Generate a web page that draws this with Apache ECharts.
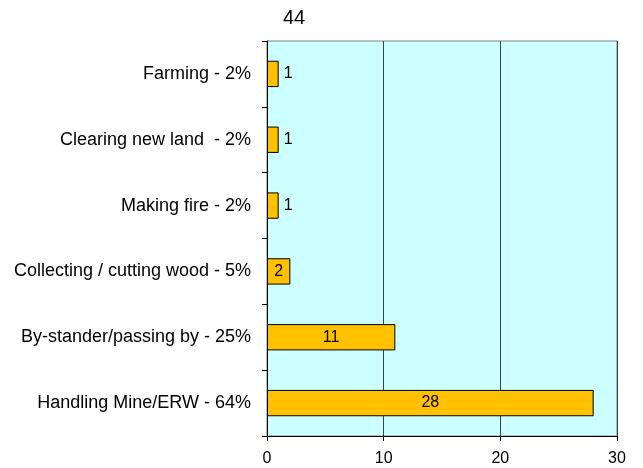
<!DOCTYPE html>
<html><head><meta charset="utf-8">
<script src="https://cdn.jsdelivr.net/npm/echarts@6/dist/echarts.min.js"></script>
<style>html,body{margin:0;padding:0;background:#fff}#c{width:643px;height:468px}</style>
</head><body><div id="c"></div>
<script>
const categories = ["Farming - 2%", "Clearing new land  - 2%", "Making fire - 2%", "Collecting / cutting wood - 5%", "By-stander/passing by - 25%", "Handling Mine/ERW - 64%"];
const values = [1, 1, 1, 2, 11, 28];
const titleText = "44";
const xTicks = [0, 10, 20, 30];

const chart = echarts.init(document.getElementById('c'));
chart.setOption({
  animation: false,
  textStyle: {fontFamily: 'Liberation Sans, Arial, sans-serif'},
  title: {text: titleText, left: 283, top: 8, padding: 0, textStyle: {fontSize: 20, fontWeight: 'normal', color: '#000', fontFamily: 'Liberation Sans'}},
  grid: {left: 267, right: 26, top: 41, bottom: 32, show: true, backgroundColor: '#CCFFFF', borderColor: '#808080', borderWidth: 1},
  xAxis: {type: 'value', min: xTicks[0], max: xTicks[xTicks.length-1], interval: 10,
    axisLine: {show: true, lineStyle: {color: '#000'}},
    axisTick: {show: true, length: 5, lineStyle: {color: '#000'}},
    axisLabel: {color: '#000', fontSize: 16, margin: 15},
    splitLine: {show: true, lineStyle: {color: '#404040', width: 1}}},
  yAxis: {type: 'category', data: categories, inverse: true,
    axisLine: {show: true, lineStyle: {color: '#000'}},
    axisTick: {show: true, length: 5, lineStyle: {color: '#000'}},
    axisLabel: {color: '#000', fontSize: 18, margin: 16},
    splitLine: {show: false}},
  series: [{type: 'bar', barWidth: '40%',
    data: values.map(v => ({value: v, label: {position: v >= 2 ? 'inside' : 'right', distance: 5}})),
    itemStyle: {color: '#FFC000', borderColor: '#000', borderWidth: 1},
    label: {show: true, color: '#000', fontSize: 16}}]
});
</script></body></html>
